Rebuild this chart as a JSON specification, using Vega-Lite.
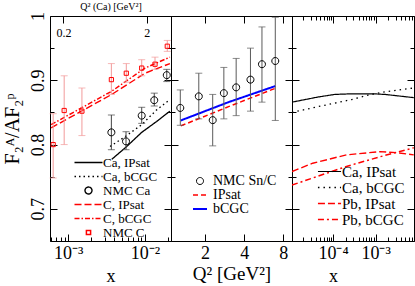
{
  "$schema": "https://vega.github.io/schema/vega-lite/v6.json",
  "padding": {"left": 1, "top": 0, "right": 0, "bottom": 0},
  "spacing": 0,
  "bounds": "flush",
  "resolve": {"scale": {"color": "independent", "strokeDash": "independent", "strokeWidth": "independent", "shape": "independent"}},
  "config": {
    "view": {"stroke": "black", "strokeWidth": 1},
    "tick": {"bandSize": 7},
    "axis": {"domain": false, "grid": false, "tickColor": "black", "tickWidth": 1, "labelFont": "Liberation Serif", "titleFont": "Liberation Serif", "labelColor": "black", "titleColor": "black", "titleFontWeight": "normal", "labelFontSize": 18, "titleFontSize": 19, "labelOverlap": false, "labelFlush": false},
    "legend": {"labelFont": "Liberation Serif", "labelColor": "black", "symbolFillColor": "transparent", "padding": 0, "symbolOffset": 0, "symbolSize": 49}
  },
  "datasets": {
    "p1lines": [
      {"s": "Ca, IPsat", "x": 0.00369, "y": 0.777}, {"s": "Ca, IPsat", "x": 0.00578, "y": 0.797}, {"s": "Ca, IPsat", "x": 0.00906, "y": 0.819}, {"s": "Ca, IPsat", "x": 0.0142, "y": 0.836}, {"s": "Ca, IPsat", "x": 0.0211, "y": 0.852},
      {"s": "Ca, bCGC", "x": 0.00351, "y": 0.797}, {"s": "Ca, bCGC", "x": 0.00578, "y": 0.814}, {"s": "Ca, bCGC", "x": 0.00906, "y": 0.831}, {"s": "Ca, bCGC", "x": 0.0142, "y": 0.854}, {"s": "Ca, bCGC", "x": 0.0211, "y": 0.870},
      {"s": "C, IPsat", "x": 0.0006, "y": 0.826}, {"s": "C, IPsat", "x": 0.00369, "y": 0.878}, {"s": "C, IPsat", "x": 0.01, "y": 0.911}, {"s": "C, IPsat", "x": 0.0211, "y": 0.926},
      {"s": "C, bCGC", "x": 0.0006, "y": 0.831}, {"s": "C, bCGC", "x": 0.00369, "y": 0.883}, {"s": "C, bCGC", "x": 0.01, "y": 0.919}, {"s": "C, bCGC", "x": 0.0211, "y": 0.936}
    ],
    "p1pts": [
      {"s": "NMC C", "x": 0.000638, "y": 0.800, "lo": 0.748, "hi": 0.848},
      {"s": "NMC C", "x": 0.000887, "y": 0.853, "lo": 0.800, "hi": 0.907},
      {"s": "NMC C", "x": 0.00151, "y": 0.852, "lo": 0.814, "hi": 0.888},
      {"s": "NMC C", "x": 0.00365, "y": 0.901, "lo": 0.878, "hi": 0.926},
      {"s": "NMC C", "x": 0.00571, "y": 0.911, "lo": 0.897, "hi": 0.926},
      {"s": "NMC C", "x": 0.00906, "y": 0.919, "lo": 0.907, "hi": 0.932},
      {"s": "NMC C", "x": 0.0135, "y": 0.925, "lo": 0.917, "hi": 0.936},
      {"s": "NMC C", "x": 0.0195, "y": 0.953, "lo": 0.945, "hi": 0.962},
      {"s": "NMC Ca", "x": 0.00365, "y": 0.819, "lo": 0.792, "hi": 0.846},
      {"s": "NMC Ca", "x": 0.00566, "y": 0.805, "lo": 0.792, "hi": 0.820},
      {"s": "NMC Ca", "x": 0.00906, "y": 0.845, "lo": 0.833, "hi": 0.858},
      {"s": "NMC Ca", "x": 0.0132, "y": 0.869, "lo": 0.860, "hi": 0.880},
      {"s": "NMC Ca", "x": 0.0192, "y": 0.908, "lo": 0.898, "hi": 0.917}
    ],
    "q2ca": [{"q2": 0.2}, {"q2": 2}],
    "p2lines": [
      {"s": "IPsat", "q2": 1.30, "y": 0.829}, {"s": "IPsat", "q2": 3.03, "y": 0.859}, {"s": "IPsat", "q2": 6.94, "y": 0.8875},
      {"s": "bCGC", "q2": 1.30, "y": 0.8375}, {"s": "bCGC", "q2": 3.03, "y": 0.866}, {"s": "bCGC", "q2": 6.94, "y": 0.891}
    ],
    "p2pts": [
      {"s": "NMC Sn/C", "q2": 1.29, "y": 0.857, "lo": 0.830, "hi": 0.885},
      {"s": "NMC Sn/C", "q2": 1.79, "y": 0.875, "lo": 0.840, "hi": 0.911},
      {"s": "NMC Sn/C", "q2": 2.29, "y": 0.838, "lo": 0.798, "hi": 0.878},
      {"s": "NMC Sn/C", "q2": 2.79, "y": 0.880, "lo": 0.840, "hi": 0.920},
      {"s": "NMC Sn/C", "q2": 3.47, "y": 0.889, "lo": 0.845, "hi": 0.934},
      {"s": "NMC Sn/C", "q2": 4.47, "y": 0.901, "lo": 0.852, "hi": 0.950},
      {"s": "NMC Sn/C", "q2": 5.48, "y": 0.925, "lo": 0.866, "hi": 0.983},
      {"s": "NMC Sn/C", "q2": 6.94, "y": 0.930, "lo": 0.8375, "hi": 0.998}
    ],
    "p3lines": [
      {"s": "Ca, IPsat", "x": 0.0000108, "y": 0.866}, {"s": "Ca, IPsat", "x": 0.0000443, "y": 0.874}, {"s": "Ca, IPsat", "x": 0.00011, "y": 0.878}, {"s": "Ca, IPsat", "x": 0.000272, "y": 0.879}, {"s": "Ca, IPsat", "x": 0.000863, "y": 0.879}, {"s": "Ca, IPsat", "x": 0.00166, "y": 0.878}, {"s": "Ca, IPsat", "x": 0.0079, "y": 0.873},
      {"s": "Ca, bCGC", "x": 0.0000108, "y": 0.850}, {"s": "Ca, bCGC", "x": 0.0000443, "y": 0.859}, {"s": "Ca, bCGC", "x": 0.000272, "y": 0.870}, {"s": "Ca, bCGC", "x": 0.000669, "y": 0.877}, {"s": "Ca, bCGC", "x": 0.00166, "y": 0.882}, {"s": "Ca, bCGC", "x": 0.0079, "y": 0.888},
      {"s": "Pb, IPsat", "x": 0.0000108, "y": 0.758}, {"s": "Pb, IPsat", "x": 0.0000332, "y": 0.771}, {"s": "Pb, IPsat", "x": 0.000207, "y": 0.784}, {"s": "Pb, IPsat", "x": 0.00126, "y": 0.789}, {"s": "Pb, IPsat", "x": 0.00313, "y": 0.7875}, {"s": "Pb, IPsat", "x": 0.0079, "y": 0.784},
      {"s": "Pb, bCGC", "x": 0.0000108, "y": 0.737}, {"s": "Pb, bCGC", "x": 0.0000332, "y": 0.748}, {"s": "Pb, bCGC", "x": 0.000207, "y": 0.766}, {"s": "Pb, bCGC", "x": 0.00126, "y": 0.781}, {"s": "Pb, bCGC", "x": 0.0079, "y": 0.795}
    ]
  },
  "hconcat": [
    {
      "width": 121,
      "height": 225,
      "resolve": {"scale": {"x": "independent"}},
      "layer": [
        {
          "resolve": {"axis": {"x": "independent", "y": "independent"}},
          "layer": [
            {
              "data": {"name": "p1lines"},
              "mark": {"type": "line", "clip": true},
              "encoding": {
                "x": {"field": "x", "type": "quantitative", "scale": {"type": "log", "domain": [0.00058, 0.0218]},
                  "axis": {"orient": "bottom", "values": [0.0006, 0.0007, 0.0008, 0.0009, 0.001, 0.002, 0.003, 0.004, 0.005, 0.006, 0.007, 0.008, 0.009, 0.01, 0.02],
                    "labelExpr": "datum.value == 0.001 ? '10⁻³' : (datum.value == 0.01 ? '10⁻²' : '')",
                    "tickSize": {"condition": {"test": "datum.value == 0.001 || datum.value == 0.01", "value": -7}, "value": -4},
                    "labelPadding": 10, "title": "x", "titleFontSize": 18, "titlePadding": 2}},
                "y": {"field": "y", "type": "quantitative", "scale": {"domain": [0.65, 1.0]},
                  "axis": {"orient": "left", "values": [0.65, 0.7, 0.75, 0.8, 0.85, 0.9, 0.95, 1.0],
                    "labelExpr": "round(datum.value*100) % 10 == 0 ? format(datum.value, '.1~f') : ''",
                    "tickSize": {"condition": {"test": "round(datum.value*100) % 10 == 0", "value": -7}, "value": -4},
                    "labelAngle": -90, "labelAlign": "center", "labelBaseline": "bottom", "labelPadding": 10,
                    "title": "F₂ᴬ/AF₂ᵖ", "titleFontSize": 20, "titlePadding": 4}},
                "color": {"field": "s", "type": "nominal",
                  "scale": {"domain": ["Ca, IPsat", "Ca, bCGC", "NMC Ca", "C, IPsat", "C, bCGC", "NMC C"], "range": ["#000000", "#000000", "#000000", "#ff0000", "#ff0000", "#ff0000"]},
                  "legend": {"orient": "none", "legendX": 32, "legendY": 140, "title": null, "labelFontSize": 13, "rowPadding": -5, "labelOffset": 8}},
                "strokeDash": {"field": "s", "type": "nominal",
                  "scale": {"domain": ["Ca, IPsat", "Ca, bCGC", "NMC Ca", "C, IPsat", "C, bCGC", "NMC C"], "range": [[1, 0], [1.5, 3], [1, 0], [7, 3], [5, 2, 1.5, 2], [1, 0]]}},
                "strokeWidth": {"field": "s", "type": "nominal",
                  "scale": {"domain": ["Ca, IPsat", "Ca, bCGC", "NMC Ca", "C, IPsat", "C, bCGC", "NMC C"], "range": [1.3, 1.5, 1, 2, 1.5, 1]}}
              }
            },
            {
              "data": {"name": "p1pts"},
              "transform": [{"filter": "datum.s == 'NMC C'"}],
              "mark": {"type": "errorbar", "color": "#f29a9a", "ticks": {"size": 7, "color": "#f29a9a"}},
              "encoding": {
                "x": {"field": "x", "type": "quantitative", "scale": {"type": "log", "domain": [0.00058, 0.0218]}, "axis": null},
                "y": {"field": "lo", "type": "quantitative", "scale": {"domain": [0.65, 1.0]}, "axis": null},
                "y2": {"field": "hi"}
              }
            },
            {
              "data": {"name": "p1pts"},
              "transform": [{"filter": "datum.s == 'NMC Ca'"}],
              "mark": {"type": "errorbar", "color": "#444444", "ticks": {"size": 7, "color": "#444444"}},
              "encoding": {
                "x": {"field": "x", "type": "quantitative", "scale": {"type": "log", "domain": [0.00058, 0.0218]}, "axis": null},
                "y": {"field": "lo", "type": "quantitative", "scale": {"domain": [0.65, 1.0]}, "axis": null},
                "y2": {"field": "hi"}
              }
            },
            {
              "data": {"name": "p1pts"},
              "mark": {"type": "point", "filled": false, "size": 49, "strokeWidth": 1, "opacity": 1},
              "encoding": {
                "x": {"field": "x", "type": "quantitative", "scale": {"type": "log", "domain": [0.00058, 0.0218]}, "axis": null},
                "y": {"field": "y", "type": "quantitative", "scale": {"domain": [0.65, 1.0]},
                  "axis": {"orient": "right", "values": [0.65, 0.7, 0.75, 0.8, 0.85, 0.9, 0.95, 1.0], "labels": false, "title": null,
                    "tickSize": {"condition": {"test": "round(datum.value*100) % 10 == 0", "value": -7}, "value": -4}}},
                "color": {"field": "s", "type": "nominal",
                  "scale": {"domain": ["Ca, IPsat", "Ca, bCGC", "NMC Ca", "C, IPsat", "C, bCGC", "NMC C"], "range": ["#000000", "#000000", "#000000", "#ff0000", "#ff0000", "#ff0000"]}},
                "shape": {"field": "s", "type": "nominal",
                  "scale": {"domain": ["Ca, IPsat", "Ca, bCGC", "NMC Ca", "C, IPsat", "C, bCGC", "NMC C"], "range": ["M-4,0H4", "M-4,0H4", "M-1,0A1,1 0 1,1 1,0A1,1 0 1,1 -1,0Z", "M-4,0H4", "M-4,0H4", "M-0.6,-0.6H0.6V0.6H-0.6Z"]}}
              }
            }
          ]
        },
        {
          "data": {"name": "q2ca"},
          "mark": {"type": "point", "opacity": 0},
          "encoding": {
            "x": {"field": "q2", "type": "quantitative", "scale": {"type": "log", "domain": [0.138, 3.91]},
              "axis": {"orient": "top", "values": [0.2, 2], "tickSize": -7, "labelFontSize": 12, "labelBaseline": "middle", "labelPadding": -9,
                "title": "Q² (Ca) [GeV²]", "titleFontSize": 10, "titleColor": "#000000", "titleY": -5, "titleBaseline": "bottom"}}
          }
        }
      ]
    },
    {
      "width": 121,
      "height": 225,
      "resolve": {"axis": {"x": "independent", "y": "independent"}},
      "layer": [
        {
          "data": {"name": "p2lines"},
          "mark": {"type": "line", "clip": true},
          "encoding": {
            "x": {"field": "q2", "type": "quantitative", "scale": {"type": "log", "domain": [1.094, 9.33]},
              "axis": {"orient": "bottom", "values": [2, 4, 8], "tickSize": -7, "labelPadding": 10, "title": "Q² [GeV²]", "titleFontSize": 19, "titlePadding": 2}},
            "y": {"field": "y", "type": "quantitative", "scale": {"domain": [0.65, 1.0]},
              "axis": {"orient": "left", "values": [0.65, 0.7, 0.75, 0.8, 0.85, 0.9, 0.95, 1.0], "labels": false, "title": null,
                "tickSize": {"condition": {"test": "round(datum.value*100) % 10 == 0", "value": -7}, "value": -4}}},
            "color": {"field": "s", "type": "nominal",
              "scale": {"domain": ["NMC Sn/C", "IPsat", "bCGC"], "range": ["#000000", "#ff0000", "#0000ff"]},
              "legend": {"orient": "none", "legendX": 22, "legendY": 158, "title": null, "labelFontSize": 14, "rowPadding": -5, "labelOffset": 6}},
            "strokeDash": {"field": "s", "type": "nominal",
              "scale": {"domain": ["NMC Sn/C", "IPsat", "bCGC"], "range": [[1, 0], [5, 3], [1, 0]]}},
            "strokeWidth": {"field": "s", "type": "nominal",
              "scale": {"domain": ["NMC Sn/C", "IPsat", "bCGC"], "range": [1, 2, 2]}}
          }
        },
        {
          "data": {"name": "p2pts"},
          "mark": {"type": "errorbar", "color": "#5a5a5a", "ticks": {"size": 7, "color": "#5a5a5a"}},
          "encoding": {
            "x": {"field": "q2", "type": "quantitative", "scale": {"type": "log", "domain": [1.094, 9.33]}, "axis": null},
            "y": {"field": "lo", "type": "quantitative", "scale": {"domain": [0.65, 1.0]}, "axis": null},
            "y2": {"field": "hi"}
          }
        },
        {
          "data": {"name": "p2pts"},
          "mark": {"type": "point", "filled": false, "size": 49, "strokeWidth": 1, "opacity": 1},
          "encoding": {
            "x": {"field": "q2", "type": "quantitative", "scale": {"type": "log", "domain": [1.094, 9.33]},
              "axis": {"orient": "top", "values": [2, 4, 8], "labels": false, "title": null, "tickSize": -7}},
            "y": {"field": "y", "type": "quantitative", "scale": {"domain": [0.65, 1.0]},
              "axis": {"orient": "right", "values": [0.65, 0.7, 0.75, 0.8, 0.85, 0.9, 0.95, 1.0], "labels": false, "title": null,
                "tickSize": {"condition": {"test": "round(datum.value*100) % 10 == 0", "value": -7}, "value": -4}}},
            "color": {"field": "s", "type": "nominal",
              "scale": {"domain": ["NMC Sn/C", "IPsat", "bCGC"], "range": ["#000000", "#ff0000", "#0000ff"]}},
            "shape": {"field": "s", "type": "nominal",
              "scale": {"domain": ["NMC Sn/C", "IPsat", "bCGC"], "range": ["M-1,0A1,1 0 1,1 1,0A1,1 0 1,1 -1,0Z", "M-2,0H2", "M-2,0H2"]}}
          }
        }
      ]
    },
    {
      "width": 122,
      "height": 225,
      "resolve": {"axis": {"x": "independent", "y": "independent"}},
      "layer": [
        {
          "data": {"name": "p3lines"},
          "transform": [{"filter": "indexof(datum.s, 'Ca') == 0"}],
          "mark": {"type": "line", "clip": true},
          "encoding": {
            "x": {"field": "x", "type": "quantitative", "scale": {"type": "log", "domain": [0.0000108, 0.008]},
              "axis": {"orient": "bottom", "values": [0.00002, 0.00003, 0.00004, 0.00005, 0.00006, 0.00007, 0.00008, 0.00009, 0.0001, 0.0002, 0.0003, 0.0004, 0.0005, 0.0006, 0.0007, 0.0008, 0.0009, 0.001, 0.002, 0.003, 0.004, 0.005, 0.006, 0.007, 0.008],
                "labelExpr": "datum.value == 0.0001 ? '10⁻⁴' : (datum.value == 0.001 ? '10⁻³' : '')",
                "tickSize": {"condition": {"test": "datum.value == 0.0001 || datum.value == 0.001", "value": -7}, "value": -4},
                "labelPadding": 10, "title": "x", "titleFontSize": 18, "titlePadding": 2, "titleX": 41}},
            "y": {"field": "y", "type": "quantitative", "scale": {"domain": [0.65, 1.0]},
              "axis": {"orient": "left", "values": [0.65, 0.7, 0.75, 0.8, 0.85, 0.9, 0.95, 1.0], "labels": false, "title": null,
                "tickSize": {"condition": {"test": "round(datum.value*100) % 10 == 0", "value": -7}, "value": -4}}},
            "color": {"field": "s", "type": "nominal",
              "scale": {"domain": ["Ca, IPsat", "Ca, bCGC", "Pb, IPsat", "Pb, bCGC"], "range": ["#000000", "#000000", "#ff0000", "#ff0000"]},
              "legend": {"orient": "none", "legendX": 30, "legendY": 148, "title": null, "labelFontSize": 15, "rowPadding": -4, "labelOffset": 5, "symbolType": "M-3.3,0H3.3"}},
            "strokeDash": {"field": "s", "type": "nominal",
              "scale": {"domain": ["Ca, IPsat", "Ca, bCGC", "Pb, IPsat", "Pb, bCGC"], "range": [[1, 0], [1.5, 4], [7, 3], [6, 3, 2, 3]]}},
            "strokeWidth": {"field": "s", "type": "nominal",
              "scale": {"domain": ["Ca, IPsat", "Ca, bCGC", "Pb, IPsat", "Pb, bCGC"], "range": [1.2, 1.5, 2, 2]}}
          }
        },
        {
          "data": {"name": "p3lines"},
          "transform": [{"filter": "indexof(datum.s, 'Pb') == 0"}],
          "mark": {"type": "line", "clip": true},
          "encoding": {
            "x": {"field": "x", "type": "quantitative", "scale": {"type": "log", "domain": [0.0000108, 0.008]},
              "axis": {"orient": "top", "values": [0.00002, 0.00003, 0.00004, 0.00005, 0.00006, 0.00007, 0.00008, 0.00009, 0.0001, 0.0002, 0.0003, 0.0004, 0.0005, 0.0006, 0.0007, 0.0008, 0.0009, 0.001, 0.002, 0.003, 0.004, 0.005, 0.006, 0.007, 0.008],
                "labels": false, "title": null,
                "tickSize": {"condition": {"test": "datum.value == 0.0001 || datum.value == 0.001", "value": -7}, "value": -4}}},
            "y": {"field": "y", "type": "quantitative", "scale": {"domain": [0.65, 1.0]},
              "axis": {"orient": "right", "values": [0.65, 0.7, 0.75, 0.8, 0.85, 0.9, 0.95, 1.0], "labels": false, "title": null,
                "tickSize": {"condition": {"test": "round(datum.value*100) % 10 == 0", "value": -7}, "value": -4}}},
            "color": {"field": "s", "type": "nominal",
              "scale": {"domain": ["Ca, IPsat", "Ca, bCGC", "Pb, IPsat", "Pb, bCGC"], "range": ["#000000", "#000000", "#ff0000", "#ff0000"]}},
            "strokeDash": {"field": "s", "type": "nominal",
              "scale": {"domain": ["Ca, IPsat", "Ca, bCGC", "Pb, IPsat", "Pb, bCGC"], "range": [[1, 0], [1.5, 4], [7, 3], [6, 3, 2, 3]]}},
            "strokeWidth": {"field": "s", "type": "nominal",
              "scale": {"domain": ["Ca, IPsat", "Ca, bCGC", "Pb, IPsat", "Pb, bCGC"], "range": [1.2, 1.5, 2, 2]}}
          }
        }
      ]
    }
  ]
}
